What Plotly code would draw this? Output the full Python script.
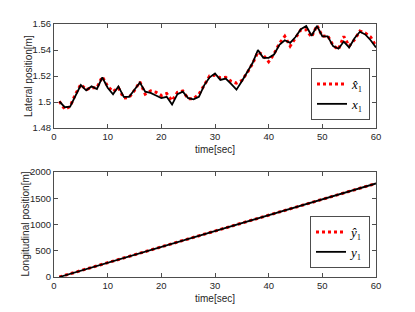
import plotly.graph_objects as go

t = list(range(1, 61))

lat_true = [1.5005, 1.496, 1.4965, 1.505, 1.513, 1.509, 1.512, 1.510, 1.519, 1.511,
            1.506, 1.512, 1.504, 1.504, 1.510, 1.515, 1.508, 1.507, 1.505, 1.503,
            1.504, 1.498, 1.506, 1.508, 1.503, 1.502, 1.504, 1.513, 1.519, 1.522,
            1.517, 1.518, 1.514, 1.5095, 1.516, 1.5235, 1.530, 1.540, 1.534, 1.534,
            1.5365, 1.544, 1.5475, 1.5455, 1.550, 1.556, 1.5585, 1.551, 1.5585, 1.5505,
            1.5505, 1.543, 1.541, 1.5465, 1.542, 1.549, 1.554, 1.552, 1.5475, 1.542]

lat_est = [1.5005, 1.4945, 1.4965, 1.506, 1.5135, 1.5095, 1.511, 1.511, 1.5195, 1.512,
           1.508, 1.511, 1.503, 1.5035, 1.509, 1.5155, 1.506, 1.5085, 1.5075, 1.505,
           1.5065, 1.501, 1.5075, 1.5085, 1.5025, 1.5025, 1.506, 1.5125, 1.520, 1.5205,
           1.5185, 1.519, 1.516, 1.5145, 1.5165, 1.5225, 1.5295, 1.5385, 1.536, 1.531,
           1.537, 1.545, 1.5505, 1.543, 1.5495, 1.5555, 1.5555, 1.550, 1.559, 1.5505,
           1.551, 1.5435, 1.5405, 1.5505, 1.543, 1.548, 1.5545, 1.553, 1.550, 1.543]

lon_true = [0, 30, 61, 91, 121, 151, 182, 212, 242, 272,
            302, 332, 363, 393, 423, 453, 483, 514, 544, 574,
            604, 634, 665, 695, 725, 755, 785, 816, 846, 876,
            906, 936, 967, 997, 1027, 1057, 1087, 1118, 1148, 1178,
            1208, 1238, 1269, 1299, 1329, 1359, 1389, 1420, 1450, 1480,
            1510, 1540, 1571, 1601, 1631, 1661, 1691, 1722, 1752, 1782]

lon_est = [1, 31, 60, 92, 120, 152, 181, 213, 241, 273,
           303, 331, 364, 392, 424, 452, 484, 513, 545, 573,
           605, 633, 666, 694, 726, 754, 786, 815, 847, 875,
           907, 935, 968, 996, 1028, 1056, 1088, 1117, 1149, 1177,
           1209, 1237, 1270, 1298, 1330, 1358, 1390, 1419, 1451, 1479,
           1511, 1539, 1572, 1600, 1632, 1660, 1692, 1721, 1753, 1781]

W, H = 415, 312
axcol = "#4d4d4d"
txtcol = "#262626"
tickfont = dict(family="Liberation Sans, Arial, sans-serif", size=9.5, color=txtcol)
titlefont = dict(family="Liberation Sans, Arial, sans-serif", size=10, color=txtcol)
legfont = dict(family="Liberation Serif, Times New Roman, serif", size=13, color="black")

fig = go.Figure()

fig.add_trace(go.Scatter(x=t, y=lat_est, mode="lines", name="<i>x̂</i>₁",
                         line=dict(color="red", width=3, dash="dot"),
                         xaxis="x", yaxis="y", legend="legend"))
fig.add_trace(go.Scatter(x=t, y=lat_true, mode="lines", name="<i>x</i>₁",
                         line=dict(color="black", width=1.8),
                         xaxis="x", yaxis="y", legend="legend"))
fig.add_trace(go.Scatter(x=t, y=lon_est, mode="lines", name="<i>ŷ</i>₁",
                         line=dict(color="red", width=3, dash="dot"),
                         xaxis="x2", yaxis="y2", legend="legend2"))
fig.add_trace(go.Scatter(x=t, y=lon_true, mode="lines", name="<i>y</i>₁",
                         line=dict(color="black", width=1.8),
                         xaxis="x2", yaxis="y2", legend="legend2"))

xd = [54 / W, 376 / W]
yd1 = [1 - 128 / H, 1 - 24 / H]
yd2 = [1 - 277 / H, 1 - 172 / H]
common_ax = dict(showline=True, mirror="ticks", linecolor=axcol, linewidth=1,
                 ticks="inside", ticklen=4, tickcolor=axcol, showgrid=False,
                 zeroline=False, tickfont=tickfont, automargin=False)

fig.update_layout(
    width=W, height=H,
    margin=dict(l=0, r=0, t=0, b=0),
    paper_bgcolor="white", plot_bgcolor="white",
    xaxis=dict(domain=xd, range=[0, 60], dtick=10, anchor="y",
               title=dict(text="time[sec]", font=titlefont, standoff=4), **common_ax),
    yaxis=dict(domain=yd1, range=[1.48, 1.56], anchor="x",
               tickvals=[1.48, 1.5, 1.52, 1.54, 1.56],
               ticktext=["1.48", "1.5", "1.52", "1.54", "1.56"], **common_ax),
    xaxis2=dict(domain=xd, range=[0, 60], dtick=10, anchor="y2",
                title=dict(text="time[sec]", font=titlefont, standoff=4), **common_ax),
    yaxis2=dict(domain=yd2, range=[0, 2000], dtick=500, anchor="x2", **common_ax),
    legend=dict(x=370 / W, y=1 - 120 / H, xanchor="right", yanchor="bottom",
                bgcolor="white", bordercolor=axcol, borderwidth=1, font=legfont,
                itemwidth=30, tracegroupgap=0),
    legend2=dict(x=370 / W, y=1 - 268 / H, xanchor="right", yanchor="bottom",
                 bgcolor="white", bordercolor=axcol, borderwidth=1, font=legfont,
                 itemwidth=30, tracegroupgap=0),
    showlegend=True,
    annotations=[
        dict(text="Lateral position[m]", xref="paper", yref="paper",
             x=28 / W, y=sum(yd1) / 2, textangle=-90, showarrow=False,
             xanchor="center", yanchor="middle", font=titlefont),
        dict(text="Longitudinal position[m]", xref="paper", yref="paper",
             x=25 / W, y=sum(yd2) / 2, textangle=-90, showarrow=False,
             xanchor="center", yanchor="middle", font=titlefont),
    ],
)

fig.write_html("out.html", config={"displayModeBar": False},
               post_script="document.body.style.margin='0';")
